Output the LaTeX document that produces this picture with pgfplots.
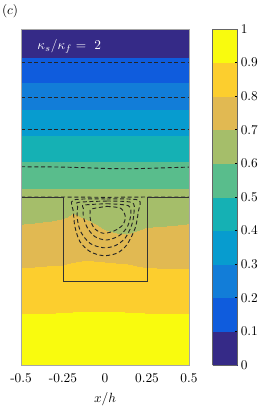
\documentclass[border=0pt]{standalone}
\usepackage{pgfplots}
\pgfplotsset{compat=1.18}
\usepackage{pgfplotstable}

\pgfplotstableread{
x y v
-0.5 0.0 0.999
-0.375 0.0 0.999
-0.25 0.0 0.999
-0.19 0.0 0.999
-0.125 0.0 0.999
-0.0625 0.0 0.999
0 0.0 0.999
0.0625 0.0 0.999
0.125 0.0 0.999
0.19 0.0 0.999
0.25 0.0 0.999
0.375 0.0 0.999
0.5 0.0 0.999
-0.5 0.1 0.968
-0.375 0.1 0.968
-0.25 0.1 0.968
-0.19 0.1 0.969
-0.125 0.1 0.969
-0.0625 0.1 0.969
0 0.1 0.969
0.0625 0.1 0.969
0.125 0.1 0.969
0.19 0.1 0.968
0.25 0.1 0.968
0.375 0.1 0.968
0.5 0.1 0.968
-0.5 0.2 0.935
-0.375 0.2 0.935
-0.25 0.2 0.937
-0.19 0.2 0.937
-0.125 0.2 0.938
-0.0625 0.2 0.938
0 0.2 0.938
0.0625 0.2 0.938
0.125 0.2 0.937
0.19 0.2 0.937
0.25 0.2 0.936
0.375 0.2 0.935
0.5 0.2 0.935
-0.5 0.3 0.903
-0.375 0.3 0.903
-0.25 0.3 0.905
-0.19 0.3 0.906
-0.125 0.3 0.906
-0.0625 0.3 0.907
0 0.3 0.907
0.0625 0.3 0.906
0.125 0.3 0.906
0.19 0.3 0.905
0.25 0.3 0.904
0.375 0.3 0.903
0.5 0.3 0.903
-0.5 0.4 0.866
-0.375 0.4 0.867
-0.25 0.4 0.870
-0.19 0.4 0.872
-0.125 0.4 0.873
-0.0625 0.4 0.874
0 0.4 0.873
0.0625 0.4 0.872
0.125 0.4 0.871
0.19 0.4 0.869
0.25 0.4 0.867
0.375 0.4 0.866
0.5 0.4 0.866
-0.5 0.5 0.829
-0.375 0.5 0.831
-0.25 0.5 0.834
-0.19 0.5 0.838
-0.125 0.5 0.840
-0.0625 0.5 0.840
0 0.5 0.839
0.0625 0.5 0.838
0.125 0.5 0.835
0.19 0.5 0.833
0.25 0.5 0.830
0.375 0.5 0.828
0.5 0.5 0.828
-0.5 0.6 0.791
-0.375 0.6 0.795
-0.25 0.6 0.798
-0.19 0.6 0.803
-0.125 0.6 0.807
-0.0625 0.6 0.807
0 0.6 0.805
0.0625 0.6 0.803
0.125 0.6 0.801
0.19 0.6 0.795
0.25 0.6 0.792
0.375 0.6 0.790
0.5 0.6 0.791
-0.5 0.7 0.754
-0.375 0.7 0.758
-0.25 0.7 0.763
-0.19 0.7 0.769
-0.125 0.7 0.769
-0.0625 0.7 0.764
0 0.7 0.755
0.0625 0.7 0.749
0.125 0.7 0.742
0.19 0.7 0.748
0.25 0.7 0.750
0.375 0.7 0.752
0.5 0.7 0.755
-0.5 0.8 0.717
-0.375 0.8 0.722
-0.25 0.8 0.728
-0.19 0.8 0.736
-0.125 0.8 0.731
-0.0625 0.8 0.720
0 0.8 0.703
0.0625 0.8 0.694
0.125 0.8 0.690
0.19 0.8 0.700
0.25 0.8 0.709
0.375 0.8 0.713
0.5 0.8 0.718
-0.5 0.9 0.674
-0.375 0.9 0.680
-0.25 0.9 0.689
-0.19 0.9 0.702
-0.125 0.9 0.689
-0.0625 0.9 0.674
0 0.9 0.662
0.0625 0.9 0.657
0.125 0.9 0.655
0.19 0.9 0.661
0.25 0.9 0.666
0.375 0.9 0.670
0.5 0.9 0.676
-0.5 1.0 0.627
-0.375 1.0 0.627
-0.25 1.0 0.627
-0.19 1.0 0.627
-0.125 1.0 0.627
-0.0625 1.0 0.627
0 1.0 0.627
0.0625 1.0 0.627
0.125 1.0 0.627
0.19 1.0 0.627
0.25 1.0 0.627
0.375 1.0 0.627
0.5 1.0 0.627
}\lowerfield

\pgfplotstableread{
x y v
-0.5 1.0 0.627
0.5 1.0 0.627
-0.5 1.1 0.570
0.5 1.1 0.570
-0.5 1.2 0.505
0.5 1.2 0.505
-0.5 1.3 0.443
0.5 1.3 0.443
-0.5 1.4 0.380
0.5 1.4 0.380
-0.5 1.5 0.315
0.5 1.5 0.315
-0.5 1.6 0.251
0.5 1.6 0.251
-0.5 1.7 0.186
0.5 1.7 0.186
-0.5 1.8 0.121
0.5 1.8 0.121
-0.5 1.9 0.060
0.5 1.9 0.060
-0.5 2.0 0.001
0.5 2.0 0.001
}\upperfield

\begin{document}
\begin{tikzpicture}
\begin{axis}[
  at={(0,0)}, anchor=south west,
  scale only axis,
  width=126pt, height=252pt,
  xmin=-0.5, xmax=0.5, ymin=0, ymax=2,
  clip=false,
  axis on top,
  axis line style={gray!70, line width=0.5pt},
  xtick={-0.5,-0.25,0,0.25,0.5},
  xticklabels={-0.5,-0.25,0,0.25,0.5},
  xtick style={draw=none},
  ytick=\empty,
  xlabel={$x/h$},
  xlabel style={yshift=-0.25pt},
  xticklabel style={yshift=-3pt},
  colormap={parulad}{rgb255=(53,42,135) rgb255=(15,92,221) rgb255=(18,125,216) rgb255=(7,156,207) rgb255=(21,177,180) rgb255=(89,189,140) rgb255=(165,190,106) rgb255=(225,185,82) rgb255=(252,206,46) rgb255=(249,251,14)},
  colormap access=piecewise constant,
  point meta min=0, point meta max=1,
  colorbar,
  colorbar style={
    at={(parent axis.north east)}, anchor=north west, xshift=9.25pt,
    scale only axis,
    width=18.5pt, height=252pt,
    ytick={0,0.1,0.2,0.3,0.4,0.5,0.6,0.7,0.8,0.9,1},
    yticklabel style={/pgf/number format/fixed, xshift=-1pt},
    ytick pos=right,
    tick align=inside,
    major tick length=2pt,
    tick style={black, line width=0.5pt},
    axis line style={gray!80!black, line width=0.5pt},
  },
]
\addplot[surf, shader=interp, mesh/cols=13, point meta=explicit] table[x=x, y=y, meta=v] {\lowerfield};
\addplot[surf, shader=interp, mesh/cols=2, point meta=explicit] table[x=x, y=y, meta=v] {\upperfield};

% streamlines
\addplot[black!85, line width=0.7pt, dash pattern=on 3pt off 2pt] coordinates {(-0.5,1.802) (0.5,1.802)};
\addplot[black!85, line width=0.7pt, dash pattern=on 3pt off 2pt] coordinates {(-0.5,1.591) (0.5,1.591)};
\addplot[black!85, line width=0.7pt, dash pattern=on 3pt off 2pt] coordinates {(-0.5,1.399) (0.5,1.399)};
\addplot[black!85, line width=0.7pt, dash pattern=on 3pt off 2pt, smooth] coordinates {(-0.5,1.180) (-0.25,1.178) (0,1.170) (0.15,1.168) (0.3,1.172) (0.5,1.178)};
\addplot[black!85, line width=0.7pt, dash pattern=on 3pt off 2pt] coordinates {(-0.5,1.0) (-0.25,1.0) (0,0.998) (0.25,1.0) (0.5,1.0)};

% cavity vortex
\addplot[black!85, line width=0.7pt, dash pattern=on 3pt off 2pt, smooth] coordinates {
 (0.010,0.988) (0.198,0.982) (0.198,0.913) (0.179,0.813) (0.129,0.714) (0.070,0.665) (-0.010,0.651) (-0.089,0.675) (-0.149,0.734) (-0.179,0.823) (-0.188,0.913) (-0.188,0.982) (0.010,0.988)};
\addplot[black!85, line width=0.7pt, dash pattern=on 3pt off 2pt, smooth] coordinates {
 (0.010,0.976) (0.159,0.968) (0.173,0.913) (0.159,0.833) (0.119,0.754) (0.060,0.710) (-0.010,0.698) (-0.089,0.724) (-0.145,0.794) (-0.165,0.873) (-0.163,0.942) (-0.159,0.968) (0.010,0.976)};
\addplot[black!85, line width=0.7pt, dash pattern=on 3pt off 2pt, smooth] coordinates {
 (0.010,0.960) (0.139,0.948) (0.153,0.893) (0.133,0.823) (0.085,0.770) (0.010,0.744) (-0.060,0.764) (-0.105,0.817) (-0.129,0.883) (-0.129,0.933) (-0.125,0.952) (0.010,0.960)};
\addplot[black!85, line width=0.7pt, dash pattern=on 3pt off 2pt, smooth] coordinates {
 (0.010,0.944) (0.093,0.933) (0.121,0.883) (0.105,0.833) (0.054,0.798) (-0.010,0.784) (-0.060,0.810) (-0.085,0.857) (-0.089,0.909) (-0.079,0.929) (0.010,0.944)};

% cavity outline
\addplot[black!80, line width=0.6pt] coordinates {(-0.5,1) (-0.25,1) (-0.25,0.5) (0.25,0.5) (0.25,1) (0.5,1)};

\node[white, anchor=west] at (axis cs:-0.43,1.895) {$\kappa_s/\kappa_f =\ 2$};
\node at (axis cs:-0.565,2.107) {$(c)$};
\end{axis}
\pgfresetboundingbox
\path (-15.75pt,-33pt) rectangle (182.25pt,273.75pt);
\end{tikzpicture}
\end{document}
